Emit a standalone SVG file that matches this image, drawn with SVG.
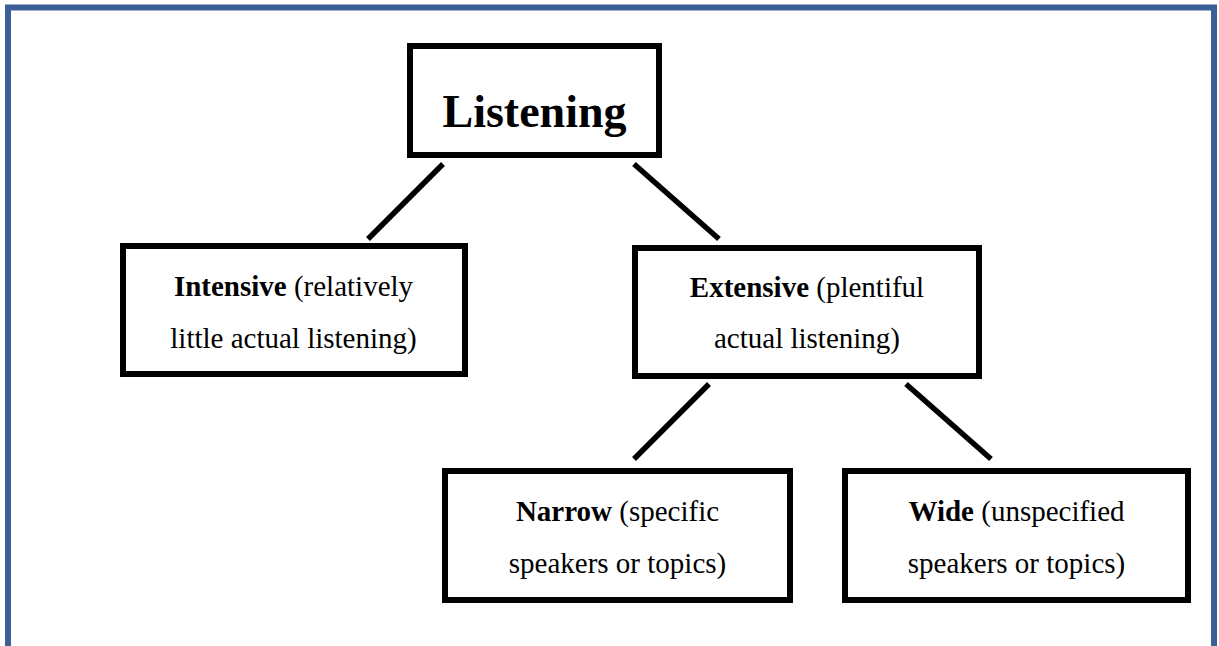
<svg xmlns="http://www.w3.org/2000/svg" width="1219" height="646" viewBox="0 0 1219 646">
<style>
.box{fill:#ffffff;stroke:#000000;stroke-width:6}
.t{font-family:"Liberation Serif","Times New Roman",serif;font-size:29px;fill:#000000;text-anchor:middle}
.b{font-weight:bold}
.title{font-family:"Liberation Serif","Times New Roman",serif;font-size:46px;font-weight:bold;fill:#000000;text-anchor:middle}
.conn line{stroke:#000000;stroke-width:5.5}
</style>
<rect x="0" y="0" width="1219" height="646" fill="#ffffff"/>
<rect x="8" y="7.5" width="1206" height="700" fill="#ffffff" stroke="#3c5f95" stroke-width="6"/>
<g class="conn" id="connectors">
<line x1="443" y1="164" x2="368" y2="239"/>
<line x1="634" y1="164" x2="719" y2="239"/>
<line x1="709" y1="384" x2="634" y2="459"/>
<line x1="906" y1="384" x2="991" y2="459"/>
</g>
<g id="listening">
<rect class="box" x="410" y="46" width="249" height="109"/>
<text class="title" x="534.5" y="127">Listening</text>
</g>
<g id="intensive">
<rect class="box" x="123" y="246" width="342" height="128"/>
<text class="t" x="293.5" y="296"><tspan class="b">Intensive</tspan> (relatively</text>
<text class="t" x="293.5" y="348">little actual listening)</text>
</g>
<g id="extensive">
<rect class="box" x="635" y="248" width="344" height="128"/>
<text class="t" x="807" y="297"><tspan class="b">Extensive</tspan> (plentiful</text>
<text class="t" x="807" y="348">actual listening)</text>
</g>
<g id="narrow">
<rect class="box" x="445" y="471" width="345" height="129"/>
<text class="t" x="617.5" y="521"><tspan class="b">Narrow</tspan> (specific</text>
<text class="t" x="617.5" y="573">speakers or topics)</text>
</g>
<g id="wide">
<rect class="box" x="845" y="471" width="343" height="129"/>
<text class="t" x="1016.5" y="521"><tspan class="b">Wide</tspan> (unspecified</text>
<text class="t" x="1016.5" y="573">speakers or topics)</text>
</g>
</svg>
